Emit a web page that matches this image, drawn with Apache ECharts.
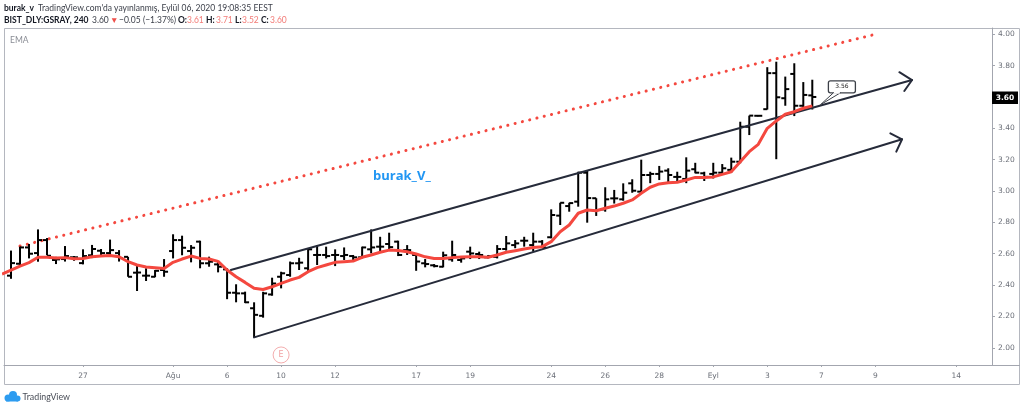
<!DOCTYPE html>
<html><head><meta charset="utf-8">
<script src="https://cdn.jsdelivr.net/npm/echarts@6/dist/echarts.min.js"></script>
<style>html,body{margin:0;padding:0;background:#fff}#c{width:1024px;height:409px}</style>
</head><body><div id="c"></div>
<script>
const openP=[2.46,2.536,2.64,2.604,2.687,2.56,2.566,2.577,2.54,2.59,2.619,2.604,2.604,2.58,2.479,2.46,2.453,2.496,2.617,2.687,2.617,2.677,2.539,2.532,2.50,2.351,2.347,2.252,2.204,2.34,2.453,2.464,2.539,2.507,2.592,2.592,2.592,2.585,2.585,2.577,2.628,2.645,2.662,2.677,2.623,2.592,2.539,2.526,2.517,2.564,2.56,2.613,2.598,2.577,2.58,2.63,2.655,2.683,2.655,2.677,2.705,2.843,2.904,2.932,3.117,2.954,2.883,2.953,2.947,3.049,2.996,3.102,3.109,3.13,3.09,3.077,3.139,3.113,3.109,3.117,3.135,3.187,3.41,3.48,3.522,3.752,3.592,3.747,3.544,3.61];
const highP=[2.62,2.645,2.662,2.755,2.70,2.58,2.649,2.585,2.628,2.656,2.63,2.69,2.623,2.58,2.527,2.507,2.496,2.566,2.724,2.715,2.655,2.683,2.581,2.549,2.507,2.405,2.358,2.29,2.357,2.447,2.485,2.55,2.574,2.634,2.655,2.645,2.628,2.64,2.592,2.645,2.755,2.708,2.734,2.683,2.655,2.602,2.566,2.534,2.613,2.683,2.58,2.645,2.613,2.592,2.655,2.713,2.687,2.708,2.734,2.687,2.883,2.925,2.925,3.123,3.13,2.954,3.024,3.007,3.049,3.075,3.2,3.123,3.16,3.145,3.123,3.215,3.18,3.123,3.18,3.172,3.213,3.442,3.481,3.485,3.79,3.825,3.73,3.815,3.695,3.71];
const lowP=[2.44,2.528,2.57,2.549,2.59,2.534,2.55,2.555,2.532,2.572,2.58,2.58,2.55,2.453,2.362,2.426,2.45,2.453,2.57,2.59,2.545,2.507,2.517,2.481,2.31,2.29,2.285,2.064,2.192,2.332,2.379,2.453,2.496,2.485,2.528,2.57,2.521,2.56,2.56,2.57,2.602,2.613,2.623,2.585,2.592,2.491,2.513,2.513,2.513,2.549,2.543,2.566,2.566,2.57,2.57,2.62,2.635,2.645,2.613,2.64,2.698,2.783,2.868,2.9,2.798,2.841,2.868,2.92,2.938,2.989,2.996,3.05,3.07,3.05,3.06,3.05,3.113,3.064,3.08,3.109,3.117,3.177,3.357,3.475,3.52,3.203,3.544,3.478,3.534,3.52];
const closeP=[2.54,2.64,2.60,2.687,2.587,2.564,2.585,2.577,2.585,2.63,2.604,2.623,2.572,2.453,2.48,2.46,2.491,2.485,2.687,2.638,2.638,2.539,2.549,2.517,2.351,2.347,2.29,2.21,2.347,2.41,2.475,2.539,2.543,2.628,2.592,2.585,2.592,2.592,2.577,2.64,2.64,2.645,2.642,2.592,2.623,2.55,2.534,2.521,2.59,2.592,2.57,2.602,2.592,2.585,2.63,2.666,2.666,2.683,2.677,2.64,2.847,2.925,2.923,3.117,2.955,2.879,2.947,2.953,2.989,3.002,3.102,3.109,3.124,3.102,3.09,3.13,3.117,3.09,3.117,3.145,3.187,3.41,3.481,3.48,3.752,3.598,3.65,3.544,3.613,3.60];
const emaP=[2.47,2.496,2.521,2.543,2.577,2.577,2.572,2.575,2.568,2.57,2.581,2.585,2.589,2.581,2.549,2.528,2.515,2.511,2.506,2.545,2.566,2.585,2.57,2.566,2.551,2.496,2.453,2.417,2.379,2.372,2.389,2.411,2.432,2.449,2.485,2.511,2.528,2.545,2.549,2.553,2.577,2.592,2.609,2.623,2.62,2.613,2.598,2.58,2.57,2.57,2.575,2.579,2.58,2.58,2.577,2.592,2.609,2.619,2.63,2.64,2.645,2.677,2.74,2.783,2.858,2.879,2.874,2.89,2.904,2.922,2.943,2.985,3.024,3.045,3.053,3.056,3.07,3.087,3.087,3.09,3.106,3.123,3.187,3.251,3.298,3.40,3.447,3.49,3.506,3.528,3.543];
const timeTicks=[[8,'27'],[18,'Ağu'],[24,'6'],[30,'10'],[36,'12'],[45,'17'],[51,'19'],[60,'24'],[66,'26'],[72,'28'],[78,'Eyl'],[84,'3'],[90,'7'],[96,'9'],[105,'14']];
const priceTicks=[2.0,2.2,2.4,2.6,2.8,3.0,3.2,3.4,3.6,3.8,4.0];
const dottedTrend=[[1,2.649],[96,4.0]];
const channelTop=[[24.41,2.496],[100.08,3.708]];
const channelTopHead=[[98.67,3.758],[100.08,3.708],[99.22,3.638]];
const channelBottom=[[27,2.066],[98.97,3.33]];
const channelBottomHead=[[97.67,3.368],[98.97,3.33],[98.33,3.251]];
const earningsMark=[[30,1.954]];
const calloutTip=[[89.9,3.55]];
const calloutText='3.56';
const lastPrice=3.60;

const ui='Lato, "Noto Sans", sans-serif';
const axisFont='"DejaVu Sans", sans-serif';
const bars=openP.map((o,i)=>[i,o,highP[i],lowP[i],closeP[i]]);
const emaLine=emaP.map((v,i)=>[i-1,v]);
const dk='#262b3a';
function seg(data,color,width,z){return {type:'line',data,symbol:'none',silent:true,z:z||4,lineStyle:{color,width,cap:'round',join:'round'}};}

function headerText(x,y,text,fill,bold){return {type:'text',x,y,style:{text,fill,font:(bold?'bold ':'')+'8.5px '+ui,textVerticalAlign:'middle'}};}
const chart=echarts.init(document.getElementById('c'),null,{renderer:'canvas'});
chart.setOption({
 animation:false,
 backgroundColor:'#fff',
 grid:{left:4,right:32,top:28,bottom:44,show:false},
 xAxis:{type:'value',min:-0.778,max:108.96,splitLine:{show:false},
  axisLine:{show:true,onZero:false,lineStyle:{color:'#a3a6af',width:1}},
  axisTick:{show:true,length:2,customValues:timeTicks.map(t=>t[0]),lineStyle:{color:'#a3a6af'}},
  axisLabel:{customValues:timeTicks.map(t=>t[0]),color:'#6b6f78',fontFamily:axisFont,fontSize:7.5,margin:7,
   formatter:v=>{const t=timeTicks.find(t=>t[0]===v);return t?t[1]:'';}}},
 yAxis:{type:'value',position:'right',min:1.89,max:4.04,splitLine:{show:false},
  axisLine:{show:true,onZero:false,lineStyle:{color:'#a3a6af',width:1}},
  axisTick:{show:true,length:3,customValues:priceTicks,lineStyle:{color:'#a3a6af'}},
  axisLabel:{customValues:priceTicks,color:'#6b6f78',fontFamily:axisFont,fontSize:7.5,margin:6,formatter:v=>v.toFixed(2)}},
 series:[
  {type:'custom',data:bars,z:3,silent:true,clip:true,encode:{x:0,y:[1,2,3,4]},renderItem:(p,api)=>{
    const x=api.value(0);
    const pO=api.coord([x,api.value(1)]),pH=api.coord([x,api.value(2)]),pL=api.coord([x,api.value(3)]),pC=api.coord([x,api.value(4)]);
    const st={stroke:'#000',lineWidth:2,fill:null};
    return {type:'group',children:[
     {type:'line',shape:{x1:pH[0],y1:pH[1],x2:pL[0],y2:pL[1]},style:st},
     {type:'line',shape:{x1:pO[0]-4,y1:pO[1],x2:pO[0],y2:pO[1]},style:st},
     {type:'line',shape:{x1:pC[0],y1:pC[1],x2:pC[0]+4,y2:pC[1]},style:st}
    ]};
  }},
  {type:'line',data:dottedTrend,symbol:'none',silent:true,z:2,lineStyle:{color:'#f4483f',width:3,type:[0.1,7.4],cap:'round'}},
  seg(channelTop,dk,2),seg(channelTopHead,dk,2),seg(channelBottom,dk,2),seg(channelBottomHead,dk,2),
  {type:'line',data:emaLine,symbol:'none',silent:true,z:5,lineStyle:{color:'#f4483f',width:3,join:'round'}},
  {type:'scatter',data:earningsMark,symbol:'circle',symbolSize:16,silent:true,z:5,
   itemStyle:{color:'#fff',borderColor:'#f0999a',borderWidth:1},
   label:{show:true,position:'inside',formatter:'E',color:'#ee8a8b',fontSize:8,fontFamily:axisFont}},
  {type:'custom',data:calloutTip,z:6,silent:true,clip:false,encode:{x:0,y:1},renderItem:(p,api)=>{
    const c=api.coord([api.value(0),api.value(1)]);
    const X=c[0],Y=c[1];
    return {type:'group',children:[
     {type:'rect',shape:{x:X+8,y:Y-24,width:27,height:12,r:2},style:{fill:'#fff',stroke:'#3c4048',lineWidth:1.3}},
     {type:'polygon',shape:{points:[[X,Y],[X+13,Y-12],[X+20,Y-12]]},style:{fill:'#fff',stroke:'#3c4048',lineWidth:1}},
     {type:'line',shape:{x1:X+13.5,y1:Y-12,x2:X+19.5,y2:Y-12},style:{stroke:'#fff',lineWidth:1.6}},
     {type:'text',x:X+21.5,y:Y-18,style:{text:calloutText,fill:'#222',font:'6px '+axisFont,align:'center',verticalAlign:'middle'}}
    ]};
  }}
 ],
 graphic:[
  {type:'rect',z:0,shape:{x:4.5,y:28.5,width:1015,height:356},style:{fill:null,stroke:'#b4b7bf',lineWidth:1}},
  {type:'line',z:1,shape:{x1:992,y1:365.5,x2:1020,y2:365.5},style:{stroke:'#a3a6af',lineWidth:1}},
  {type:'rect',z:50,shape:{x:992,y:91.5,width:26,height:12.5},style:{fill:'#000'}},
  {type:'text',z:51,x:1005,y:98,style:{text:lastPrice.toFixed(2),fill:'#fff',font:'bold 7.5px '+axisFont,align:'center',verticalAlign:'middle'}},
  headerText(4,8.5,'burak_v','#131722',true),
  headerText(38,8.5,"TradingView.com'da yayınlanmış, Eylül 06, 2020 19:08:35 EEST",'#3a3e48',false),
  headerText(4,20,'BIST_DLY:GSRAY, 240','#131722',true),
  headerText(92,20,'3.60','#3a3e48',false),
  headerText(110,20,'▼','#ef4f4a',false),
  headerText(119,20,'−0.05 (−1.37%)','#3a3e48',false),
  headerText(178,20,'O:','#131722',true),headerText(187,20,'3.61','#f27c78',false),
  headerText(206,20,'H:','#131722',true),headerText(216,20,'3.71','#f27c78',false),
  headerText(235,20,'L:','#131722',true),headerText(242,20,'3.52','#f27c78',false),
  headerText(261,20,'C:','#131722',true),headerText(270,20,'3.60','#f27c78',false),
  {type:'text',x:10,y:40,style:{text:'EMA',fill:'#8a8d95',font:'8.5px '+ui,textVerticalAlign:'middle'}},
  {type:'text',x:373,y:176,style:{text:'burak_V_',fill:'#2196f3',font:'bold 13px "Open Sans", sans-serif',textVerticalAlign:'middle'}},
  {type:'circle',shape:{cx:8,cy:398,r:3.5},style:{fill:'#2d9cf0'}},
  {type:'circle',shape:{cx:13,cy:395,r:4},style:{fill:'#2d9cf0'}},
  {type:'circle',shape:{cx:17.5,cy:398.5,r:3},style:{fill:'#2d9cf0'}},
  {type:'rect',shape:{x:6,y:398,width:12,height:3.5},style:{fill:'#2d9cf0'}},
  {type:'text',x:22.5,y:397,style:{text:'TradingView',fill:'#4a4e58',font:'8.8px '+ui,textVerticalAlign:'middle'}}
 ]
});
</script></body></html>
